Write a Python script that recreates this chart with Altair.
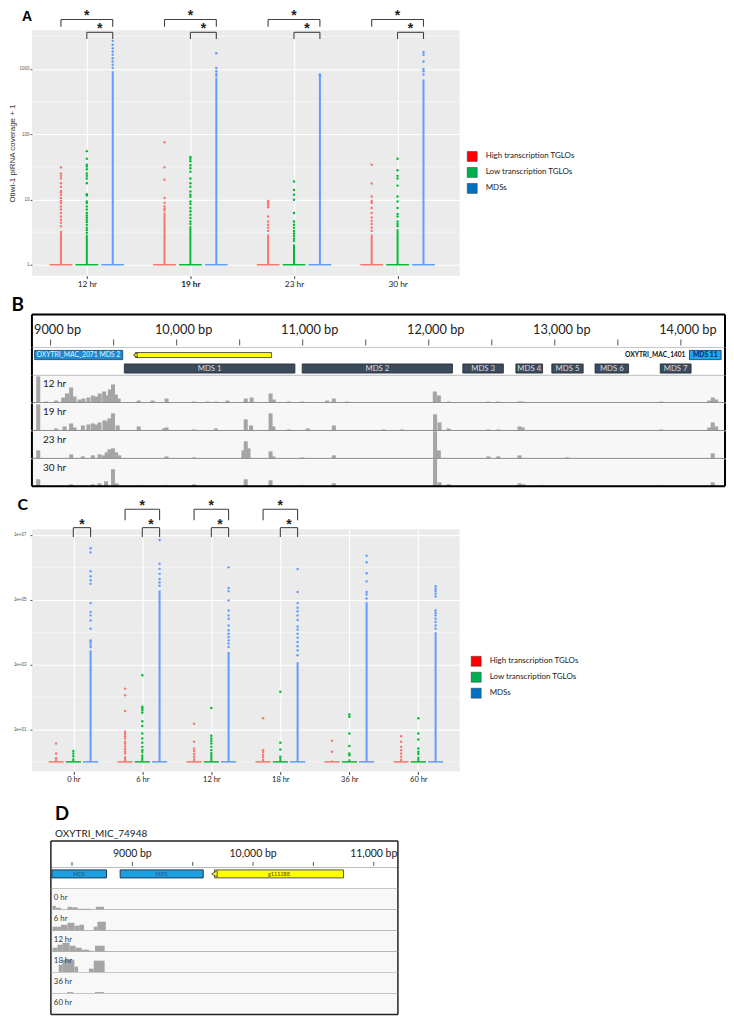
import json
import altair as alt
import pandas as pd

# ------------------------------------------------------------------ shared
GROUPS = ["High transcription TGLOs", "Low transcription TGLOs", "MDSs"]
POINT_COLORS = ["#F8766D", "#00BA38", "#619CFF"]
LEGEND_COLORS = ["#FF0000", "#00B050", "#0070C0"]
DODGE = [-0.25, 0.0, 0.25]
HALF = 0.11

# ------------------------------------------------------------------ panel A data
A_TIMES = ["12 hr", "19 hr", "23 hr", "30 hr"]
A_STRIP_HIGH = [3.3, 6.3, 2.9, 2.9]
A_STRIP_LOW = [2.9, 3.9, 2.05, 3.5]
A_STRIP_MDS = [922, 730, 790, 690]
A_PTS_HIGH = [
    [31, 25, 23, 21, 17.7, 15.7, 13.5, 12.9, 11.8, 10.5, 9.5, 8.8, 7.8, 7.0, 6.2, 5.5, 4.9, 4.4, 3.9],
    [75, 31, 20, 10.5, 8.8, 7.8, 7.2, 6.8],
    [9.5, 9.2, 8.7, 8.2, 7.6, 5.5, 4.6, 4.1, 3.7, 3.3],
    [34, 17.5, 11.1, 9.5, 8.8, 7.4, 6.2, 5.3, 4.7, 4.2, 3.7, 3.3],
]
A_PTS_LOW = [
    [55, 42, 34, 32, 29, 25, 23, 21, 17.7, 12, 11.5, 9.3, 8.8, 7.8, 7.0, 6.2, 5.7, 5.3, 4.9, 4.5, 4.1, 3.7, 3.4, 3.1],
    [44.8, 42, 38.6, 33.5, 30, 26.5, 21, 17.7, 15.7, 13.2, 11.8, 11, 9.3, 8.5, 7.4, 6.6, 5.85, 5.2, 4.6, 4.2],
    [18.8, 14, 11.8, 9.9, 6.2, 4.6, 4.1, 3.7, 3.3, 3.0, 2.75, 2.5, 2.3],
    [42, 28, 23, 21, 16.3, 11.1, 9.3, 7.4, 6.0, 5.5, 4.6, 4.2, 3.9],
]
A_PTS_MDS = [
    [2690, 2340, 2080, 1850, 1650, 1460, 1300, 1160, 1030],
    [1740, 1030, 920, 840, 780],
    [820, 800],
    [1800, 1650, 1300, 1000, 920, 820],
]
A_BRACKETS = [("12 hr", 0, 2, "outer"), ("12 hr", 1, 2, "inner"),
              ("19 hr", 0, 2, "outer"), ("19 hr", 1, 2, "inner"),
              ("23 hr", 0, 2, "outer"), ("23 hr", 1, 2, "inner"),
              ("30 hr", 0, 2, "outer"), ("30 hr", 1, 2, "inner")]
A_LEVELS = {"outer": (5730, 4440), "inner": (3640, 2880)}
A_Y_DOMAIN = [0.68, 3900]
A_Y_TICKS = [1, 10, 100, 1000]
A_Y_MINOR = [3.16, 31.6, 316, 3160]

# ------------------------------------------------------------------ panel C data
C_TIMES = ["0 hr", "6 hr", "12 hr", "18 hr", "36 hr", "60 hr"]
C_STRIP_HIGH = [1.2, 1.5, 1.3, 1.25, 1.1, 1.25]
C_STRIP_LOW = [1.3, 1.7, 2.0, 1.35, 1.2, 1.45]
C_STRIP_MDS = [2750, 1.95e5, 2450, 1200, 8.5e4, 1.0e4]
C_PTS_HIGH = [
    [3.7, 1.8, 1.3],
    [182, 114, 37, 8.5, 7.4, 6.2, 5.3, 4.2, 3.6, 3.0, 2.5, 2.1, 1.8],
    [15, 4.2, 2.6, 2.15, 1.75, 1.45],
    [22, 2.3, 2.0, 1.65, 1.4],
    [4.5, 2.05],
    [6.2, 4.2, 2.9, 2.3, 1.8, 1.45],
]
C_PTS_LOW = [
    [2.15, 1.8, 1.5],
    [470, 50, 45, 39, 33, 18, 12.7, 7.5, 5.3, 3.9, 2.9, 2.3, 2.0],
    [46, 6.4, 5.3, 4.5, 3.7, 2.9, 2.3],
    [145, 3.9, 2.4, 1.45],
    [29, 24.5, 7.5, 3.1, 1.8, 1.6],
    [22, 7.5, 4.9, 2.6, 2.05, 1.75],
]
C_PTS_MDS = [
    [3.9e6, 2.9e6, 7.6e5, 5.3e5, 4.0e5, 3.1e5, 7.9e4, 4.2e4, 3.3e4, 2.3e4, 1.28e4, 5600, 5000, 4200, 3500],
    [7.0e6, 1.3e6, 9.0e5, 6.3e5, 4.4e5, 3.4e5, 2.7e5],
    [1.0e6, 2.3e5, 1.85e5, 9.6e4, 4.7e4, 3.3e4, 2.6e4, 1.6e4, 1.15e4, 9000, 7100, 5600, 4500, 3500],
    [8.9e5, 1.74e5, 7.9e4, 5.7e4, 4.4e4, 3.3e4, 2.4e4, 1.5e4, 1.2e4, 9000, 6800, 5000, 3700, 2750, 1950],
    [2.3e6, 1.44e6, 6.6e5, 3.7e5, 1.74e5, 1.45e5, 1.1e5],
    [2.6e5, 2.2e5, 1.87e5, 1.55e5, 1.27e5, 4.7e4, 3.9e4, 3.3e4, 2.6e4, 2.05e4, 1.6e4, 1.28e4],
]
C_BRACKETS = [("0 hr", 1, 2, "inner"),
              ("6 hr", 0, 2, "outer"), ("6 hr", 1, 2, "inner"),
              ("12 hr", 0, 2, "outer"), ("12 hr", 1, 2, "inner"),
              ("18 hr", 0, 2, "outer"), ("18 hr", 1, 2, "inner")]
C_LEVELS = {"outer": (6.2e7, 2.86e7), "inner": (1.68e7, 8.6e6)}
C_Y_DOMAIN = [0.505, 1.51e7]
C_Y_TICKS = [10, 1e3, 1e5, 1e7]
C_Y_MINOR = [1, 100, 1e4, 1e6]

# ------------------------------------------------------------------ panel B data
B_VIEW = [8852, 14350]
B_TICKS = list(range(9000, 14001, 500))
B_LABEL_BP = [9000, 10000, 11000, 12000, 13000, 14000]
B_LABEL_TEXT = ["9000 bp", "10,000 bp", "11,000 bp", "12,000 bp", "13,000 bp", "14,000 bp"]
B_MDS_NAMES = ["MDS 1", "MDS 2", "MDS 3", "MDS 4", "MDS 5", "MDS 6", "MDS 7"]
B_MDS_START = [9585, 10996, 12270, 12691, 12976, 13319, 13836]
B_MDS_END = [10938, 12188, 12592, 12903, 13225, 13585, 14081]
B_MAC_NAMES = ["OXYTRI_MAC_2071 MDS 2", "MDS 11"]
B_MAC_START = [8873, 14068]
B_MAC_END = [9572, 14319]
B_GENE = [9672, 10753]
B_CONTIG_NAME = "OXYTRI_MAC_1401"
B_CONTIG_NAME_BP = 14036
B_TRACKS = ["12 hr", "19 hr", "23 hr", "30 hr"]
B_COV_12 = [(8902, 26), (8965, 1), (9044, 2), (9100, 5), (9130, 9), (9163, 15), (9190, 6),
            (9230, 3), (9260, 4), (9300, 5), (9335, 7), (9362, 6), (9390, 9), (9425, 11),
            (9448, 7), (9470, 13), (9495, 18), (9518, 8), (9540, 4), (9699, 2), (9809, 2),
            (9920, 4), (10139, 1), (10244, 1), (10310, 1), (10403, 2), (10548, 4), (10595, 5),
            (10745, 9), (10770, 3), (10891, 1), (10996, 1), (11194, 2), (11247, 4), (11352, 1),
            (12048, 11), (12080, 7), (12157, 1), (12473, 1), (12552, 1), (12715, 1), (12745, 1),
            (13844, 1), (14225, 2), (14253, 5), (14280, 3)]
B_COV_19 = [(8902, 26), (9044, 2), (9111, 4), (9163, 7), (9190, 3), (9256, 5), (9300, 6),
            (9335, 7), (9362, 6), (9388, 8), (9427, 10), (9450, 9), (9467, 12), (9495, 17),
            (9532, 5), (9699, 4), (9900, 2), (9920, 3), (10139, 1), (10310, 2), (10548, 11),
            (10590, 5), (10745, 17), (10767, 4), (10891, 1), (11040, 2), (11247, 5), (11640, 1),
            (11788, 1), (12050, 16), (12085, 8), (12157, 2), (12473, 1), (12552, 1), (12720, 4),
            (12745, 3), (13844, 1), (14225, 3), (14253, 8), (14280, 4)]
B_COV_23 = [(8902, 8), (9163, 4), (9256, 2), (9335, 3), (9388, 4), (9420, 3), (9445, 6),
            (9467, 9), (9495, 10), (9520, 6), (9545, 3), (9920, 2), (10139, 1), (10530, 8),
            (10548, 17), (10570, 10), (10745, 7), (10767, 2), (10996, 1), (11247, 3),
            (12050, 27), (12080, 8), (12473, 2), (12552, 2), (12720, 3), (13100, 1), (14253, 5)]
B_COV_30 = [(8902, 7), (9044, 1), (9163, 2), (9256, 1), (9335, 2), (9388, 3), (9440, 5),
            (9495, 17), (9525, 3), (9699, 1), (9920, 1), (10139, 2), (10310, 1), (10548, 7),
            (10745, 6), (10996, 1), (11247, 3), (12050, 27), (12085, 4), (12157, 2), (12720, 3),
            (12750, 2), (12900, 1), (13844, 1), (14253, 4)]
B_COV = [B_COV_12, B_COV_19, B_COV_23, B_COV_30]

# ------------------------------------------------------------------ panel D data
D_NAME = "OXYTRI_MIC_74948"
D_VIEW = [8325, 11200]
D_TICKS = list(range(8500, 11001, 500))
D_LABEL_BP = [9000, 10000, 11000]
D_LABEL_TEXT = ["9000 bp", "10,000 bp", "11,000 bp"]
D_MDS_START = [8333, 8899]
D_MDS_END = [8786, 9587]
D_GENE = [9680, 10749]
D_GENE_NAME = "g111288"
D_TRACKS = ["0 hr", "6 hr", "12 hr", "18 hr", "36 hr", "60 hr"]
D_COV_0 = [(8339, 8366, 4), (8366, 8408, 2), (8463, 8504, 3), (8504, 8545, 2.5), (8545, 8655, 1), (8697, 8765, 3)]
D_COV_6 = [(8339, 8408, 4), (8408, 8463, 6), (8463, 8520, 8), (8520, 8560, 5), (8560, 8600, 6), (8680, 8710, 4), (8710, 8780, 9)]
D_COV_12 = [(8339, 8380, 4), (8380, 8420, 7), (8420, 8480, 9), (8480, 8530, 6), (8530, 8580, 4), (8580, 8640, 2), (8640, 8670, 1), (8690, 8770, 6)]
D_COV_18 = [(8390, 8420, 8), (8420, 8520, 13), (8520, 8550, 6), (8640, 8680, 4), (8680, 8770, 12)]
D_COV_36 = [(8460, 8510, 1.5), (8690, 8765, 1.5)]
D_COV_60 = []
D_COV = [D_COV_0, D_COV_6, D_COV_12, D_COV_18, D_COV_36, D_COV_60]

ONE = pd.DataFrame({"k": [0]})


# ------------------------------------------------------------------ strip panels (A, C)
def strip_panel(times, strips, pts, brackets, levels, ydom, yticks, yminor, ylabel_expr,
                width, height, ytitle, label_pad, lx, ly, title, tfont, tsize, tdx, toff,
                xlab_size, xlo, bold_tick=None):
    n = len(times)
    base_rows, strip_rows, pt_rows, br_rows = [], [], [], []
    for i in range(n):
        for j, g in enumerate(GROUPS):
            p = i + 1 + DODGE[j]
            base_rows.append({"grp": g, "xa": p - HALF, "xb": p + HALF, "v": 1.0})
            strip_rows.append({"grp": g, "xa": p, "v": 1.0, "v2": strips[j][i]})
            for v in pts[j][i]:
                pt_rows.append({"grp": g, "xa": p, "v": v})
    for t, a, b, lev in brackets:
        i = times.index(t)
        xa, xb = i + 1 + DODGE[a], i + 1 + DODGE[b]
        top, bot = levels[lev]
        br_rows.append({"xa": xa, "xb": xb, "xm": (xa + xb) / 2, "top": top, "bot": bot})
    base_df, strip_df = pd.DataFrame(base_rows), pd.DataFrame(strip_rows)
    pt_df, br_df = pd.DataFrame(pt_rows), pd.DataFrame(br_rows)

    xs = alt.Scale(domain=[xlo, n + 0.6], nice=False, zero=False)
    ys = alt.Scale(type="log", domain=ydom, nice=False)
    fw = (alt.ExprRef(expr=f"datum.value == {bold_tick} ? 'bold' : 'normal'")
          if bold_tick else "normal")
    xaxis = alt.Axis(values=list(range(1, n + 1)),
                     labelExpr=f"{json.dumps(times)}[datum.value - 1]",
                     title=None, grid=True, gridColor="white", gridWidth=1.1,
                     domain=False, tickColor="#444444", tickSize=3,
                     labelFont="Lato", labelFontSize=xlab_size, labelColor="#222222",
                     labelPadding=1, labelFontWeight=fw)
    yaxis = alt.Axis(values=yticks, labelExpr=ylabel_expr, title=ytitle, grid=True,
                     gridColor="white", gridWidth=1.1, domain=False, tickColor="#555555",
                     tickSize=2, labelFont="Liberation Sans", labelFontSize=4.5,
                     labelColor="#555555", labelPadding=label_pad,
                     titleFont="Liberation Sans", titleFontSize=8, titleFontWeight="normal",
                     titleColor="#333333", titlePadding=2)

    def X(f):
        return alt.X(f"{f}:Q", scale=xs, axis=xaxis)

    def Y(f):
        return alt.Y(f"{f}:Q", scale=ys, axis=yaxis)

    col = alt.Color("grp:N", scale=alt.Scale(domain=GROUPS, range=POINT_COLORS), legend=None)
    minor = alt.Chart(pd.DataFrame({"v": yminor})).mark_rule(
        color="white", strokeWidth=0.5).encode(y=Y("v"))
    base = alt.Chart(base_df).mark_rule(strokeWidth=1.5).encode(
        x=X("xa"), x2="xb:Q", y=Y("v"), color=col)
    strip = alt.Chart(strip_df).mark_rule(strokeWidth=2).encode(
        x=X("xa"), y=Y("v"), y2="v2:Q", color=col)
    dots = alt.Chart(pt_df).mark_circle(size=6, opacity=1).encode(
        x=X("xa"), y=Y("v"), color=col)
    br_h = alt.Chart(br_df).mark_rule(color="#404040", strokeWidth=1.1).encode(
        x=X("xa"), x2="xb:Q", y=Y("top"))
    br_l = alt.Chart(br_df).mark_rule(color="#404040", strokeWidth=1.1).encode(
        x=X("xa"), y=Y("top"), y2="bot:Q")
    br_r = alt.Chart(br_df).mark_rule(color="#404040", strokeWidth=1.1).encode(
        x=X("xb"), y=Y("top"), y2="bot:Q")
    star = alt.Chart(br_df).mark_text(
        text="*", font="Liberation Sans", fontSize=14, fontWeight="bold",
        baseline="alphabetic", dy=1, color="#222222").encode(x=X("xm"), y=Y("top"))
    leg = alt.Chart(pd.DataFrame({"lg": GROUPS})).transform_filter("false").mark_square(
        opacity=1, filled=True).encode(
        color=alt.Color("lg:N", scale=alt.Scale(domain=GROUPS, range=LEGEND_COLORS),
                        legend=alt.Legend(title=None, orient="none", legendX=lx, legendY=ly,
                                          symbolType="square", symbolSize=100,
                                          symbolOpacity=1,
                                          symbolStrokeColor="#333333", symbolStrokeWidth=0.5,
                                          labelFont="Lato", labelFontSize=8,
                                          labelColor="#222222", labelOffset=8,
                                          rowPadding=3, padding=0, labelLimit=300)))
    return alt.layer(minor, base, strip, dots, br_h, br_l, br_r, star, leg).resolve_scale(
        color="independent").properties(
        width=width, height=height, view=alt.ViewBackground(fill="#EBEBEB"),
        title=alt.TitleParams(title, anchor="start", frame="group", font=tfont,
                              fontSize=tsize, fontWeight="bold", color="black",
                              dx=tdx, offset=toff))


panel_a = strip_panel(
    A_TIMES, [A_STRIP_HIGH, A_STRIP_LOW, A_STRIP_MDS], [A_PTS_HIGH, A_PTS_LOW, A_PTS_MDS],
    A_BRACKETS, A_LEVELS, A_Y_DOMAIN, A_Y_TICKS, A_Y_MINOR, "format(datum.value, 'd')",
    429, 246, "Otiwi-1 piRNA coverage + 1", 1, 436, 121, "A", "Liberation Sans", 14, -10,
    -14.5, 8.3, 0.47, bold_tick=2)

panel_c = strip_panel(
    C_TIMES, [C_STRIP_HIGH, C_STRIP_LOW, C_STRIP_MDS], [C_PTS_HIGH, C_PTS_LOW, C_PTS_MDS],
    C_BRACKETS, C_LEVELS, C_Y_DOMAIN, C_Y_TICKS, C_Y_MINOR,
    "'1e+0' + format(log(datum.value) / LN10, '.0f')",
    429, 243, None, 4, 440, 127, "C", "Lato", 16, -14.5, -13.4, 7.5, 0.4)


# ------------------------------------------------------------------ genome browser helpers
def hline(y, color, w):
    return alt.Chart(ONE).mark_rule(color=color, strokeWidth=w).encode(y=alt.value(y))


def vborders(xs, edges, color, w):
    return alt.Chart(pd.DataFrame({"bp": edges})).mark_rule(color=color, strokeWidth=w).encode(
        x=alt.X("bp:Q", scale=xs, axis=None))


# ------------------------------------------------------------------ panel B
B_W = 695
BX = alt.Scale(domain=B_VIEW, nice=False, zero=False)


def bx(f):
    return alt.X(f"{f}:Q", scale=BX, axis=None)


b_ruler = alt.layer(
    alt.Chart(pd.DataFrame({"bp": B_TICKS})).mark_rule(color="#555555", strokeWidth=1).encode(
        x=bx("bp"), y=alt.value(25), y2=alt.value(31)),
    alt.Chart(pd.DataFrame({"bp": B_LABEL_BP, "t": B_LABEL_TEXT})).mark_text(
        font="Lato", fontSize=12.8, color="#222222", dx=7, baseline="alphabetic").encode(
        x=bx("bp"), y=alt.value(20), text="t:N"),
    hline(0, "black", 2), hline(33, "#8C8C8C", 1), vborders(BX, B_VIEW, "black", 2),
).properties(width=B_W, height=33, view=alt.ViewBackground(fill="white"))

BFY = alt.Scale(domain=["r1", "r2"], range=[3, 25.7], paddingInner=0.32, paddingOuter=0)


def by():
    return alt.Y("row:N", scale=BFY, axis=None)


mds_df = pd.DataFrame({"name": B_MDS_NAMES, "s": B_MDS_START, "e": B_MDS_END})
mds_df["row"] = "r2"
mds_df["mid"] = (mds_df["s"] + mds_df["e"]) / 2
mac_df = pd.DataFrame({"name": B_MAC_NAMES, "s": B_MAC_START, "e": B_MAC_END})
mac_df["row"] = "r1"
mac_df["mid"] = (mac_df["s"] + mac_df["e"]) / 2
gene_df = pd.DataFrame({"s": [B_GENE[0]], "e": [B_GENE[1]], "row": ["r1"]})
cname_df = pd.DataFrame({"bp": [B_CONTIG_NAME_BP], "t": [B_CONTIG_NAME], "row": ["r1"]})

b_feat = alt.layer(
    alt.Chart(mds_df).mark_rect(fill="#3D4A5B", stroke="#222A35", strokeWidth=0.8).encode(
        x=bx("s"), x2="e:Q", y=by()),
    alt.Chart(mds_df).mark_text(font="Lato", fontSize=7.8, color="#D4DAE2").encode(
        x=bx("mid"), y=by(), text="name:N"),
    alt.Chart(mac_df.iloc[:1]).mark_rect(fill="#1D8BD1", stroke="#0B3D66", strokeWidth=0.8).encode(
        x=bx("s"), x2="e:Q", y=by()),
    alt.Chart(mac_df.iloc[:1]).mark_text(font="Lato", fontSize=6.8, color="#E6F2FF",
                                         align="left", dx=2).encode(
        x=bx("s"), y=by(), text="name:N"),
    alt.Chart(mac_df.iloc[1:]).mark_rect(fill="#1BA6EE", stroke="#163060", strokeWidth=0.8).encode(
        x=bx("s"), x2="e:Q", y=by()),
    alt.Chart(mac_df.iloc[1:]).mark_text(font="Lato", fontSize=6.8, fontWeight="bold",
                                         color="#10255A").encode(
        x=bx("mid"), y=by(), text="name:N"),
    alt.Chart(cname_df).mark_text(font="Lato", fontSize=6.6, fontWeight="bold", color="#111111",
                                  align="right").encode(x=bx("bp"), y=by(), text="t:N"),
    alt.Chart(gene_df).mark_bar(size=5, fill="#FFFF00", stroke="#333333", strokeWidth=0.8).encode(
        x=bx("s"), x2="e:Q", y=by()),
    alt.Chart(gene_df).mark_point(shape="triangle-left", filled=True, fill="#FFFF00",
                                  stroke="#333333", strokeWidth=0.8, size=20, opacity=1).encode(
        x=bx("s"), y=by()),
    hline(28, "#8C8C8C", 1), vborders(BX, B_VIEW, "black", 2),
).properties(width=B_W, height=28, view=alt.ViewBackground(fill="white"))

B_TRACK_H = 27.25
B_COV_MAX = 27
B_PEAK_HALF = 16


def b_track(label, peaks, last):
    df = pd.DataFrame({"s": [c - B_PEAK_HALF for c, h in peaks],
                       "e": [c + B_PEAK_HALF for c, h in peaks],
                       "h": [h for c, h in peaks]})
    bars = alt.Chart(df).mark_rect(color="#A5A5A5").encode(
        x=bx("s"), x2="e:Q",
        y=alt.Y("h:Q", scale=alt.Scale(domain=[0, B_COV_MAX]), axis=None), y2=alt.datum(0))
    lab = alt.Chart(pd.DataFrame({"t": [label]})).mark_text(
        align="left", baseline="alphabetic", font="Lato", fontSize=10, color="#222222").encode(
        x=alt.value(11), y=alt.value(12), text="t:N")
    layers = [bars, lab, hline(B_TRACK_H, "#8C8C8C", 1)]
    if last:
        layers.append(hline(B_TRACK_H, "black", 2))
    layers.append(vborders(BX, B_VIEW, "black", 2))
    return alt.layer(*layers).properties(width=B_W, height=B_TRACK_H,
                                         view=alt.ViewBackground(fill="#F7F7F7"))


b_tracks = [b_track(t, c, i == len(B_TRACKS) - 1) for i, (t, c) in enumerate(zip(B_TRACKS, B_COV))]
panel_b = alt.vconcat(b_ruler, b_feat, *b_tracks, spacing=0, bounds="flush").properties(
    title=alt.TitleParams("B", anchor="start", dx=-19.5, offset=-1.8, font="Lato", fontSize=19,
                          fontWeight="bold", color="black"))

# ------------------------------------------------------------------ panel D
D_W = 348
DX = alt.Scale(domain=D_VIEW, nice=False, zero=False)


def dx_(f):
    return alt.X(f"{f}:Q", scale=DX, axis=None)


d_ruler = alt.layer(
    alt.Chart(pd.DataFrame({"bp": D_TICKS})).mark_rule(color="#555555", strokeWidth=1).encode(
        x=dx_("bp"), y=alt.value(21), y2=alt.value(25)),
    alt.Chart(pd.DataFrame({"bp": D_LABEL_BP, "t": D_LABEL_TEXT})).mark_text(
        font="Lato", fontSize=10.5, color="#222222", baseline="alphabetic").encode(
        x=dx_("bp"), y=alt.value(16), text="t:N"),
    hline(0, "#222222", 1.5), hline(27, "#8C8C8C", 1), vborders(DX, D_VIEW, "#222222", 1.5),
).properties(width=D_W, height=27, view=alt.ViewBackground(fill="white"))

DFY = alt.Scale(domain=["r1"], range=[2, 10], paddingInner=0, paddingOuter=0)
dmds_df = pd.DataFrame({"s": D_MDS_START, "e": D_MDS_END})
dmds_df["row"] = "r1"
dmds_df["mid"] = (dmds_df["s"] + dmds_df["e"]) / 2
dmds_df["name"] = "MDS"
dgene_df = pd.DataFrame({"s": [D_GENE[0]], "e": [D_GENE[1]], "row": ["r1"], "name": [D_GENE_NAME]})
dgene_df["mid"] = (dgene_df["s"] + dgene_df["e"]) / 2


def dy_():
    return alt.Y("row:N", scale=DFY, axis=None)


d_feat = alt.layer(
    alt.Chart(dmds_df).mark_rect(fill="#1BA1E2", stroke="#1D3557", strokeWidth=1).encode(
        x=dx_("s"), x2="e:Q", y=dy_()),
    alt.Chart(dmds_df).mark_text(font="Lato", fontSize=5.5, color="#2A4A7A").encode(
        x=dx_("mid"), y=dy_(), text="name:N"),
    alt.Chart(dgene_df).mark_rect(fill="#FFFF00", stroke="#555555", strokeWidth=1).encode(
        x=dx_("s"), x2="e:Q", y=dy_()),
    alt.Chart(dgene_df).mark_point(shape="triangle-left", filled=True, fill="#FFFF00",
                                   stroke="#555555", strokeWidth=1, size=40, opacity=1).encode(
        x=dx_("s"), y=dy_()),
    alt.Chart(dgene_df).mark_text(font="Lato", fontSize=5.5, color="#554400").encode(
        x=dx_("mid"), y=dy_(), text="name:N"),
    hline(21, "#8C8C8C", 1), vborders(DX, D_VIEW, "#222222", 1.5),
).properties(width=D_W, height=21, view=alt.ViewBackground(fill="white"))

D_TRACK_H = 21
D_COV_MAX = 21


def d_track(label, ivals, last):
    layers = []
    if ivals:
        df = pd.DataFrame({"s": [a for a, b, h in ivals], "e": [b for a, b, h in ivals],
                           "h": [h for a, b, h in ivals]})
        layers.append(alt.Chart(df).mark_rect(color="#A5A5A5").encode(
            x=dx_("s"), x2="e:Q",
            y=alt.Y("h:Q", scale=alt.Scale(domain=[0, D_COV_MAX]), axis=None), y2=alt.datum(0)))
    layers.append(alt.Chart(pd.DataFrame({"t": [label]})).mark_text(
        align="left", baseline="alphabetic", font="Lato", fontSize=7.8, color="#333333").encode(
        x=alt.value(3), y=alt.value(11), text="t:N"))
    layers.append(hline(D_TRACK_H, "#222222" if last else "#8C8C8C", 1.5 if last else 1))
    layers.append(vborders(DX, D_VIEW, "#222222", 1.5))
    return alt.layer(*layers).properties(width=D_W, height=D_TRACK_H,
                                         view=alt.ViewBackground(fill="#F8F8F8"))


d_tracks = [d_track(t, c, i == len(D_TRACKS) - 1) for i, (t, c) in enumerate(zip(D_TRACKS, D_COV))]
panel_d = alt.vconcat(d_ruler, d_feat, *d_tracks, spacing=0, bounds="flush").properties(
    title=alt.TitleParams("D", subtitle=D_NAME, anchor="start", dx=5, offset=1.25, font="Lato",
                          fontSize=18.5, fontWeight="bold", color="black", subtitleFont="Lato",
                          subtitleFontSize=10, subtitleColor="#222222", subtitlePadding=6))

spacer = alt.Chart(ONE).mark_point(size=0, opacity=0).encode(
    x=alt.value(0), y=alt.value(0)).properties(width=18, height=1,
                                               view=alt.ViewBackground(fill="white"))
row_d = alt.hconcat(spacer, panel_d, spacing=0)

top = alt.vconcat(panel_a, panel_b, spacing=7)
bottom = alt.vconcat(panel_c, row_d, spacing=20.7)
chart = alt.vconcat(top, bottom, spacing=8.2).properties(
    padding=0, background="white").configure_view(stroke=None)

chart.save("out.html", embed_options={"renderer": "svg", "actions": False})
